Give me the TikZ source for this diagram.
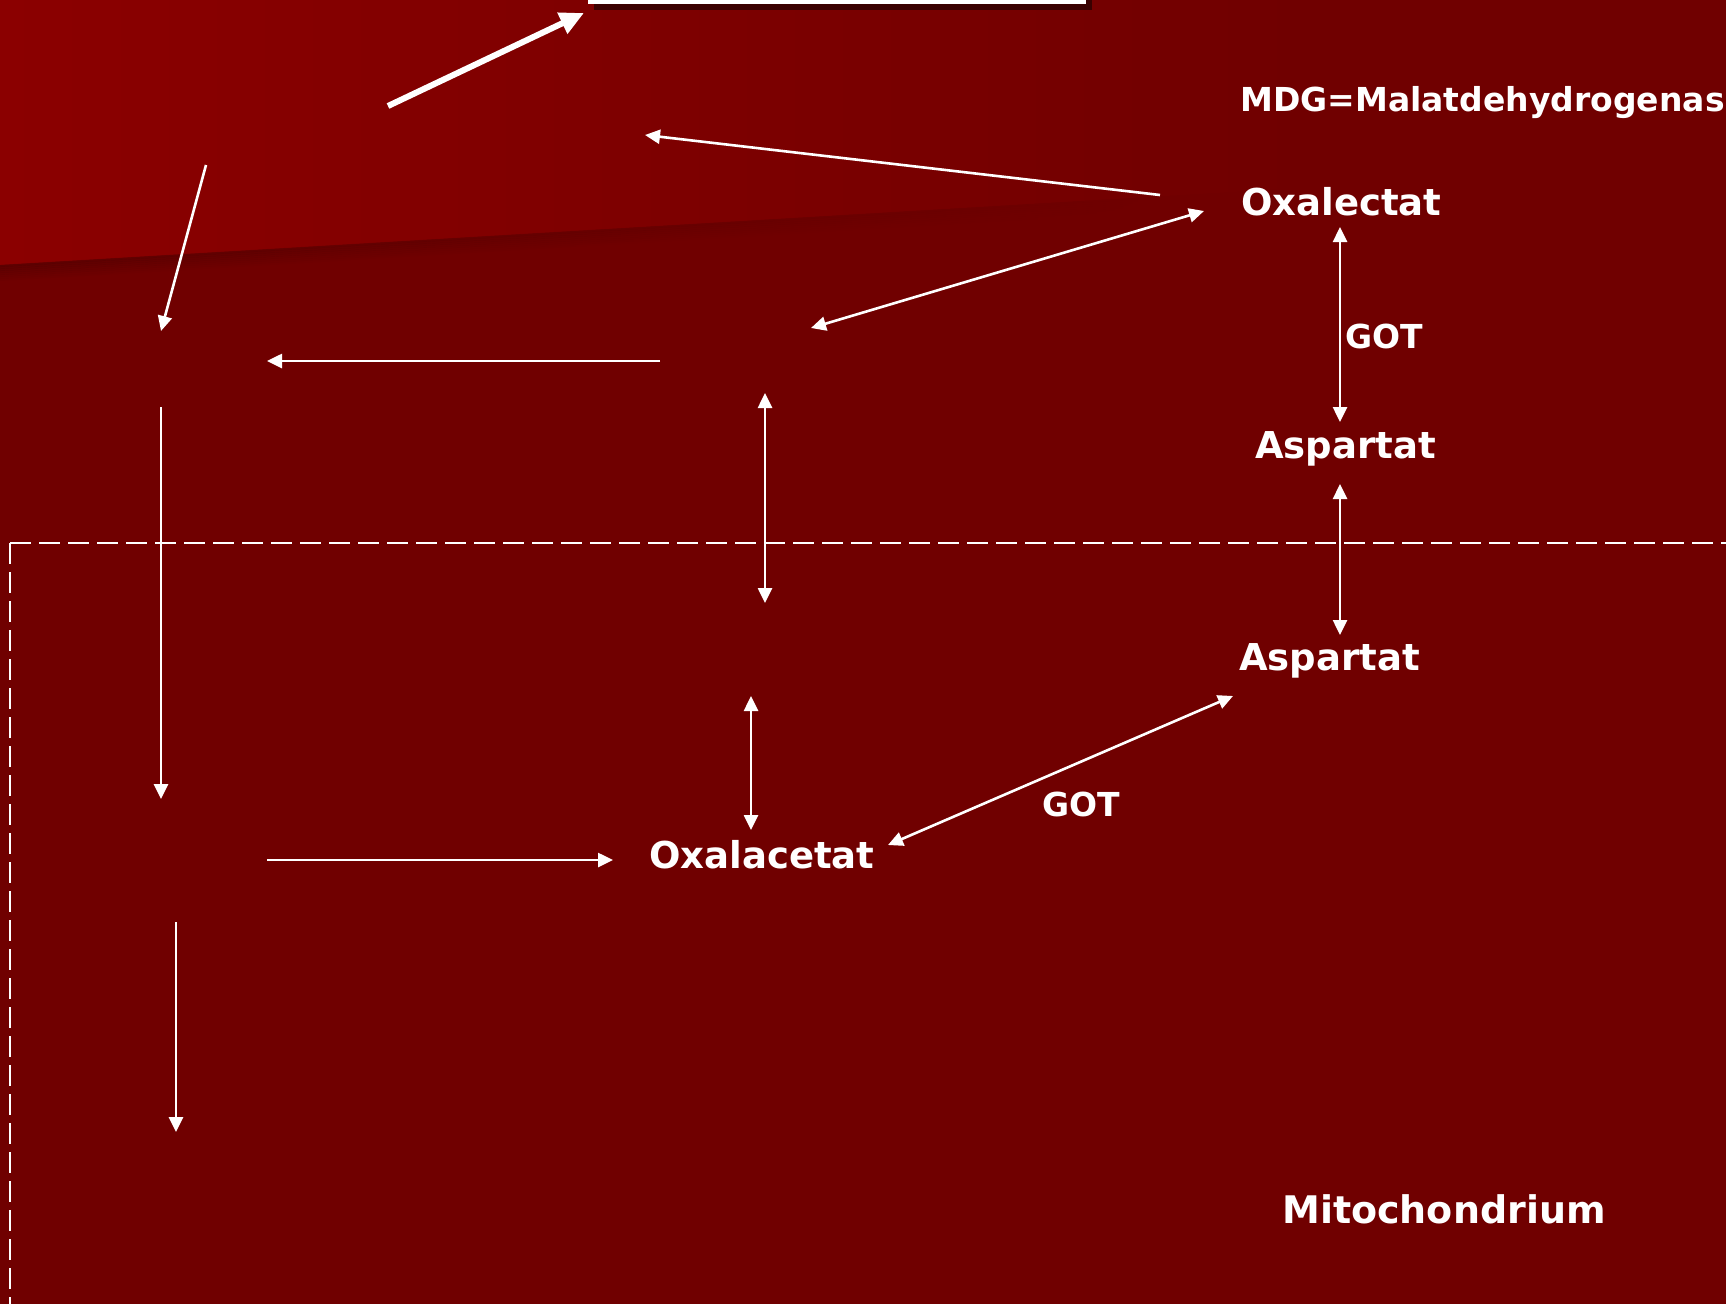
\documentclass[tikz,border=0pt]{standalone}
\usepackage{fontspec}
\setmainfont{DejaVu Sans}
\usetikzlibrary{arrows.meta,fadings}
\definecolor{bgdark}{HTML}{700000}
\definecolor{bglight}{HTML}{8B0000}
\definecolor{bgmid}{HTML}{820000}
\definecolor{boxshadow}{HTML}{2A0000}
\tikzfading[name=rimfade, left color=transparent!0, right color=transparent!100]
\begin{document}
\begin{tikzpicture}[x=1pt,y=-1pt,
  lbl/.style={text=white,inner sep=0pt,anchor=base west,font=\bfseries\fontsize{37}{40}\selectfont},
  small/.style={lbl,font=\bfseries\fontsize{33}{36}\selectfont},
  conn/.style={draw=white,line width=2.6pt,-{Triangle[length=15pt,width=14pt]}},
  both/.style={draw=white,line width=2.6pt,{Triangle[length=15pt,width=14pt]}-{Triangle[length=15pt,width=14pt]}},
  heavy/.style={draw=white,line width=6pt,-{Triangle[length=24pt,width=22pt]}},
  border/.style={draw=white,line width=2.5pt,dash pattern=on 21pt off 8pt}]

% background
\fill[bgdark] (0,0) rectangle (1726,1304);
\useasboundingbox (0,0) rectangle (1726,1304);
\shade[left color=bglight,middle color=bgmid,right color=bgdark] (0,0) -- (1300,0) -- (1300,188) -- (0,265) -- cycle;
\foreach \i in {0,...,7}{
  \pgfmathsetmacro\op{0.16*(1-\i/8)}
  \draw[black,opacity=\op,line width=2.2pt,path fading=rimfade] (0,266+2*\i) -- (1150,198+2*\i);
}

% title box cut by the top edge
\fill[boxshadow,opacity=0.8] (594,-5) rectangle (1092,10);
\node[fill=white,inner sep=0pt,minimum width=498pt,minimum height=14pt,anchor=south west] (titlebox) at (588,4) {};

% membrane border
\coordinate (corner) at (10,543);
\coordinate (borderE) at (1726,543);
\coordinate (borderS) at (10,1304);
\draw[border] (corner) -- (borderE);
\draw[border] (corner) -- (borderS);

% labels
\node[small] (mdg) at (1240,111) {MDG=Malatdehydrogenas};
\node[lbl] (oxtop) at (1241,215) {Oxalectat};
\node[small] (got1) at (1345,348) {GOT};
\node[lbl] (asp1) at (1255,458) {Aspartat};
\node[lbl] (asp2) at (1239,670) {Aspartat};
\node[small] (got2) at (1042,816) {GOT};
\node[lbl] (oxa) at (649,868) {Oxalacetat};
\node[lbl,font=\bfseries\fontsize{38}{41}\selectfont] (mito) at (1282,1223) {Mitochondrium};

% connector end points
\coordinate (h1) at (388,106);  \coordinate (h2) at (584,13);
\coordinate (a1) at (1160,195); \coordinate (a2) at (645,135);
\coordinate (b1) at (206,165);  \coordinate (b2) at (161,331);
\coordinate (c1) at (811,328);  \coordinate (c2) at (1204,211);
\coordinate (d1) at (660,361);  \coordinate (d2) at (267,361);
\coordinate (e1) at (765,393);  \coordinate (e2) at (765,603);
\coordinate (f1) at (161,407);  \coordinate (f2) at (161,799);
\coordinate (g1) at (1340,227); \coordinate (g2) at (1340,422);
\coordinate (k1) at (1340,484); \coordinate (k2) at (1340,635);
\coordinate (m1) at (1233,696); \coordinate (m2) at (888,845);
\coordinate (n1) at (751,696);  \coordinate (n2) at (751,830);
\coordinate (p1) at (267,860);  \coordinate (p2) at (613,860);
\coordinate (q1) at (176,922);  \coordinate (q2) at (176,1132);

% connectors
\draw[heavy] (h1) -- (h2);
\draw[conn] (a1) -- (a2);
\draw[conn] (b1) -- (b2);
\draw[both] (c1) -- (c2);
\draw[conn] (d1) -- (d2);
\draw[both] (e1) -- (e2);
\draw[conn] (f1) -- (f2);
\draw[both] (g1) -- (g2);
\draw[both] (k1) -- (k2);
\draw[both] (m1) -- (m2);
\draw[both] (n1) -- (n2);
\draw[conn] (p1) -- (p2);
\draw[conn] (q1) -- (q2);
\end{tikzpicture}
\end{document}
